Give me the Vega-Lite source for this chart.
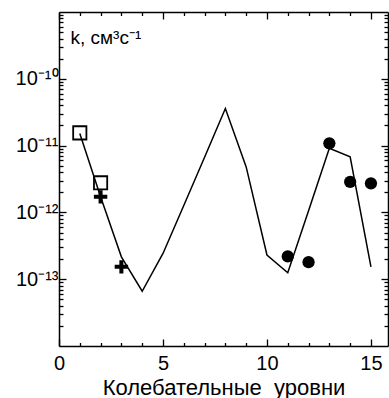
{
  "$schema": "https://vega.github.io/schema/vega-lite/v6.json",
  "autosize": "none",
  "width": 329,
  "height": 334,
  "padding": {"left": 59, "top": 12, "right": 1, "bottom": 52},
  "background": "white",
  "config": {
    "view": {"stroke": null},
    "axis": {
      "domainColor": "black", "tickColor": "black", "labelColor": "black", "titleColor": "black",
      "labelFont": "Liberation Sans", "titleFont": "Liberation Sans", "titleFontWeight": "normal",
      "domainWidth": 1.5, "tickWidth": 1.3, "grid": false, "labelFlush": false, "labelOverlap": false
    }
  },
  "datasets": {
    "line": [
      {"v": 1, "k": 1.52e-11}, {"v": 2, "k": 1.71e-12}, {"v": 3, "k": 2.16e-13}, {"v": 4, "k": 6.6e-14},
      {"v": 5, "k": 2.43e-13}, {"v": 6, "k": 1.27e-12}, {"v": 7, "k": 6.7e-12}, {"v": 8, "k": 3.6e-11},
      {"v": 9, "k": 4.8e-12}, {"v": 10, "k": 2.3e-13}, {"v": 11, "k": 1.25e-13}, {"v": 12, "k": 1.06e-12},
      {"v": 13, "k": 9.1e-12}, {"v": 14, "k": 6.8e-12}, {"v": 15, "k": 1.53e-13}
    ],
    "squares": [{"v": 1, "k": 1.55e-11}, {"v": 2, "k": 2.77e-12}],
    "crosses": [{"v": 2, "k": 1.71e-12}, {"v": 3, "k": 1.53e-13}],
    "circles": [
      {"v": 11, "k": 2.2e-13}, {"v": 12, "k": 1.8e-13}, {"v": 13, "k": 1.08e-11},
      {"v": 14, "k": 2.87e-12}, {"v": 15, "k": 2.72e-12}
    ]
  },
  "layer": [
    {
      "data": {"name": "line"},
      "mark": {"type": "line", "color": "black", "strokeWidth": 1.5},
      "encoding": {
        "x": {"field": "v", "type": "quantitative",
          "scale": {"domain": [0, 15.82], "nice": false, "zero": false},
          "axis": {"orient": "bottom", "values": [0, 5, 10, 15], "tickSize": -7, "labelPadding": 14,
            "labelFontSize": 20, "labelBaseline": "top",
            "title": "Колебательные\u00a0 уровни", "titleFontSize": 22, "titleBaseline": "alphabetic",
            "titleAnchor": "middle", "titleY": 48}},
        "y": {"field": "k", "type": "quantitative",
          "scale": {"type": "log", "domain": [1e-14, 1e-9], "nice": false},
          "axis": {"orient": "left", "values": [1e-13, 1e-12, 1e-11, 1e-10], "tickSize": -7, "labelPadding": 8,
            "labelFontSize": 20, "labelAlign": "right", "labelBaseline": "middle",
            "labelExpr": "datum.value < 5e-13 ? '10⁻¹³' : datum.value < 5e-12 ? '10⁻¹²' : datum.value < 5e-11 ? '10⁻¹¹' : '10⁻¹⁰'",
            "title": "k, см³с⁻¹", "titleFontSize": 19, "titleAngle": 0, "titleAlign": "left",
            "titleBaseline": "alphabetic", "titleX": 11, "titleY": 31}}
      }
    },
    {
      "data": {"name": "squares"},
      "mark": {"type": "point", "shape": "square", "size": 175, "filled": false, "color": "black", "strokeWidth": 1.8, "opacity": 1},
      "encoding": {
        "x": {"field": "v", "type": "quantitative",
          "scale": {"domain": [0, 15.82], "nice": false, "zero": false},
          "axis": {"orient": "bottom", "values": [1, 2, 3, 4, 6, 7, 8, 9, 11, 12, 13, 14], "tickSize": -3.5,
            "labels": false, "domain": false, "title": null}},
        "y": {"field": "k", "type": "quantitative",
          "scale": {"type": "log", "domain": [1e-14, 1e-9], "nice": false},
          "axis": {"orient": "left", "tickSize": -4, "labels": false, "domain": false, "title": null,
            "values": [2e-14, 3e-14, 4e-14, 5e-14, 6e-14, 7e-14, 8e-14, 9e-14,
                       2e-13, 3e-13, 4e-13, 5e-13, 6e-13, 7e-13, 8e-13, 9e-13,
                       2e-12, 3e-12, 4e-12, 5e-12, 6e-12, 7e-12, 8e-12, 9e-12,
                       2e-11, 3e-11, 4e-11, 5e-11, 6e-11, 7e-11, 8e-11, 9e-11,
                       2e-10, 3e-10, 4e-10, 5e-10, 6e-10, 7e-10, 8e-10, 9e-10]}}
      }
    },
    {
      "data": {"name": "crosses"},
      "mark": {"type": "point", "shape": "M-1,-0.3H-0.3V-1H0.3V-0.3H1V0.3H0.3V1H-0.3V0.3H-1Z", "size": 180, "filled": true, "color": "black", "opacity": 1},
      "encoding": {
        "x": {"field": "v", "type": "quantitative",
          "scale": {"domain": [0, 15.82], "nice": false, "zero": false},
          "axis": {"orient": "top", "values": [0, 5, 10, 15], "tickSize": -7, "labels": false, "title": null}},
        "y": {"field": "k", "type": "quantitative",
          "scale": {"type": "log", "domain": [1e-14, 1e-9], "nice": false},
          "axis": {"orient": "right", "values": [1e-13, 1e-12, 1e-11, 1e-10], "tickSize": -7, "labels": false, "title": null}}
      }
    },
    {
      "data": {"name": "circles"},
      "mark": {"type": "circle", "size": 150, "color": "black", "opacity": 1},
      "encoding": {
        "x": {"field": "v", "type": "quantitative",
          "scale": {"domain": [0, 15.82], "nice": false, "zero": false},
          "axis": {"orient": "top", "values": [1, 2, 3, 4, 6, 7, 8, 9, 11, 12, 13, 14], "tickSize": -3.5,
            "labels": false, "domain": false, "title": null}},
        "y": {"field": "k", "type": "quantitative",
          "scale": {"type": "log", "domain": [1e-14, 1e-9], "nice": false},
          "axis": {"orient": "right", "tickSize": -4, "labels": false, "domain": false, "title": null,
            "values": [2e-14, 3e-14, 4e-14, 5e-14, 6e-14, 7e-14, 8e-14, 9e-14,
                       2e-13, 3e-13, 4e-13, 5e-13, 6e-13, 7e-13, 8e-13, 9e-13,
                       2e-12, 3e-12, 4e-12, 5e-12, 6e-12, 7e-12, 8e-12, 9e-12,
                       2e-11, 3e-11, 4e-11, 5e-11, 6e-11, 7e-11, 8e-11, 9e-11,
                       2e-10, 3e-10, 4e-10, 5e-10, 6e-10, 7e-10, 8e-10, 9e-10]}}
      }
    }
  ],
  "resolve": {"axis": {"x": "independent", "y": "independent"}}
}
